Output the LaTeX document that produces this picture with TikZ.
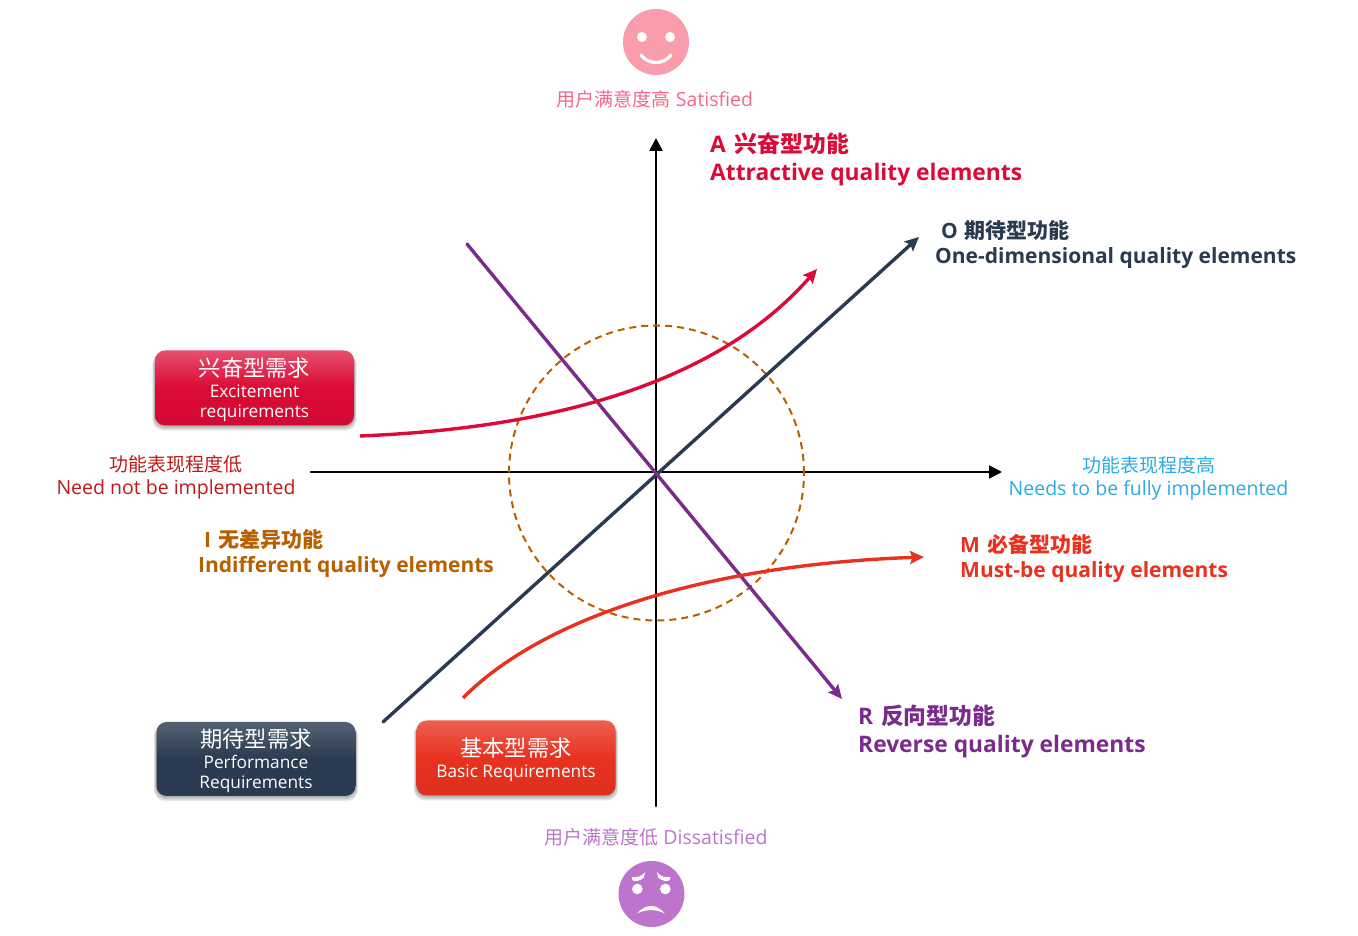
\documentclass[tikz,border=0pt]{standalone}
\usepackage{fontspec}
\setmainfont{Open Sans}
\newfontfamily\cjk{Noto Sans CJK SC}
\usepackage{tkz-euclide}
\usetikzlibrary{arrows.meta,backgrounds}
\definecolor{cA}{HTML}{DC0A36}
\definecolor{cO}{HTML}{2A3A50}
\definecolor{cM}{HTML}{E8321F}
\definecolor{cR}{HTML}{7B2A8E}
\definecolor{cI}{HTML}{B85F00}
\definecolor{cHi}{HTML}{29ABE2}
\definecolor{cLo}{HTML}{C01818}
\definecolor{cSat}{HTML}{F0688A}
\definecolor{cSmile}{HTML}{F99DAD}
\definecolor{cDis}{HTML}{BC74CC}
\newcommand\boxhead[1]{{\cjk\fontsize{22.3}{24}\selectfont\rule{0pt}{23pt}#1}}
\newcommand\softshadow[1]{%
  \begin{scope}[on background layer]
    \foreach \s in {0,1,...,5}
      \fill[black,opacity=.07,rounded corners=11pt]
        ([xshift=-0.5*\s pt,yshift=-\s pt]#1.south west) rectangle ([xshift=0.5*\s pt,yshift=-3pt]#1.north east);
  \end{scope}}
\tikzset{
  reqbox/.style={rounded corners=10pt,minimum width=199pt,align=center,text=white,
    inner sep=0pt,font=\fontsize{17.3}{20}\selectfont},
  curvetext/.style={anchor=west,align=left,inner sep=0pt},
  bigtext/.style={curvetext,font=\fontsize{22.8}{28}\selectfont\bfseries},
  smalltext/.style={curvetext,font=\fontsize{21}{25}\selectfont\bfseries},
  sidetext/.style={align=center,inner sep=0pt,font=\fontsize{19.5}{23}\selectfont},
  curveline/.style={line width=3.4pt,-{Stealth[length=14pt,width=13pt,inset=2.5pt]}},
  axisline/.style={black,line width=2.6pt,-{Triangle[length=13pt,width=13pt]}},
}
\newcommand\sidehead[1]{{\cjk\fontsize{19}{23}\selectfont #1}}
\begin{document}
\begin{tikzpicture}[x=100pt,y=100pt]
    \useasboundingbox (0,0) rectangle (13.58,9.36);
    \tkzDefPoint(3.11,4.64){Xa}
    \tkzDefPoint(10.02,4.64){Xb}
    \tkzDefPoint(6.56,1.30){Ya}
    \tkzDefPoint(6.56,7.98){Yb}
    \tkzDefPoint(6.565,4.63){Cc}
    \tkzDefPoint(8.04,4.63){Cd}
    \tkzDefPoint(3.83,2.14){Oa}
    \tkzDefPoint(9.19,6.99){Ob}
    \tkzDefPoint(4.67,6.92){Ra}
    \tkzDefPoint(8.42,2.37){Rb}
    \tkzDefPoint(3.60,5.00){Aa}
    \tkzDefPoint(8.17,6.67){Ab}
    \tkzDefPoint(4.63,2.38){Ma}
    \tkzDefPoint(9.24,3.79){Mb}
    % axes
    \tkzDrawSegment[axisline](Xa,Xb)
    \tkzDrawSegment[axisline](Ya,Yb)
    \tkzDrawCircle[cI,line width=2pt,dash pattern=on 7pt off 5pt](Cc,Cd)
    \tkzDrawSegment[cO,curveline](Oa,Ob)
    \tkzDrawSegment[cR,curveline](Ra,Rb)
    \draw[cA,curveline] (Aa) .. controls (5.60,5.08) and (7.20,5.56) .. (Ab);
    \draw[cM,curveline] (Ma) .. controls (5.40,3.16) and (7.00,3.71) .. (Mb);
    % boxes
    \node[reqbox,minimum height=75pt,top color=cA!72!white,bottom color=cA!95!black,middle color=cA] (bA) at (2.545,5.48)
      {\boxhead{兴奋型需求}\\[1pt]Excitement\\requirements};
    \node[reqbox,minimum height=74pt,top color=cO!80!white,bottom color=cO,middle color=cO] (bO) at (2.56,1.77)
      {\boxhead{期待型需求}\\[1pt]Performance\\Requirements};
    \node[reqbox,minimum height=75pt,top color=cM!78!white,bottom color=cM!95!black,middle color=cM] (bM) at (5.16,1.78)
      {\boxhead{基本型需求}\\[1pt]Basic Requirements};
    \softshadow{bA}
    \softshadow{bO}
    \softshadow{bM}
    % labels
    \node[bigtext,text=cA] (tA) at (7.10,7.77) {A\hspace{3pt} {\cjk 兴奋型功能}\\Attractive quality elements};
    \node[smalltext,text=cO] (tO) at (9.35,6.91) {\hspace*{6pt}O\hspace{1pt} {\cjk 期待型功能}\\One-dimensional quality elements};
    \node[smalltext,text=cI] (tI) at (1.98,3.82) {\hspace*{6pt}I\hspace{2pt} {\cjk 无差异功能}\\Indifferent quality elements};
    \node[smalltext,text=cM] (tM) at (9.60,3.775) {M\hspace{2pt} {\cjk 必备型功能}\\Must-be quality elements};
    \node[bigtext,text=cR] (tR) at (8.58,2.045) {R\hspace{2pt} {\cjk 反向型功能}\\Reverse quality elements};
    \node[sidetext,text=cLo] (tLo) at (1.76,4.59) {\sidehead{功能表现程度低}\\Need not be implemented};
    \node[sidetext,text=cHi] (tHi) at (11.485,4.58) {\sidehead{功能表现程度高}\\Needs to be fully implemented};
    \node[sidetext,text=cSat] (tSat) at (6.55,8.37) {\sidehead{用户满意度高} Satisfied};
    \node[sidetext,text=cDis] (tDis) at (6.56,0.99) {\sidehead{用户满意度低} Dissatisfied};
    % happy face
    \fill[cSmile] (6.56,8.94) circle (33pt);
    \fill[white] (6.42,8.99) circle (5pt);
    \fill[white] (6.70,8.99) circle (5pt);
    \draw[white,line width=3.2pt,line cap=round] (6.41,8.81) .. controls (6.48,8.71) and (6.64,8.71) .. (6.71,8.81);
    % sad face
    \fill[cDis] (6.515,0.42) circle (33pt);
    \fill[white] (6.373,0.47) circle (5.3pt);
    \fill[white] (6.653,0.47) circle (5.3pt);
    \fill[white] (6.37,0.225) .. controls (6.46,0.325) and (6.56,0.325) .. (6.65,0.225) .. controls (6.56,0.27) and (6.46,0.27) .. cycle;
    \fill[white] (6.32,0.59) .. controls (6.38,0.58) and (6.42,0.60) .. (6.45,0.64) -- (6.44,0.585) .. controls (6.40,0.55) and (6.35,0.54) .. (6.32,0.56) -- cycle;
    \fill[white] (6.70,0.59) .. controls (6.64,0.58) and (6.60,0.60) .. (6.57,0.64) -- (6.58,0.585) .. controls (6.62,0.55) and (6.67,0.54) .. (6.70,0.56) -- cycle;
\end{tikzpicture}
\end{document}
